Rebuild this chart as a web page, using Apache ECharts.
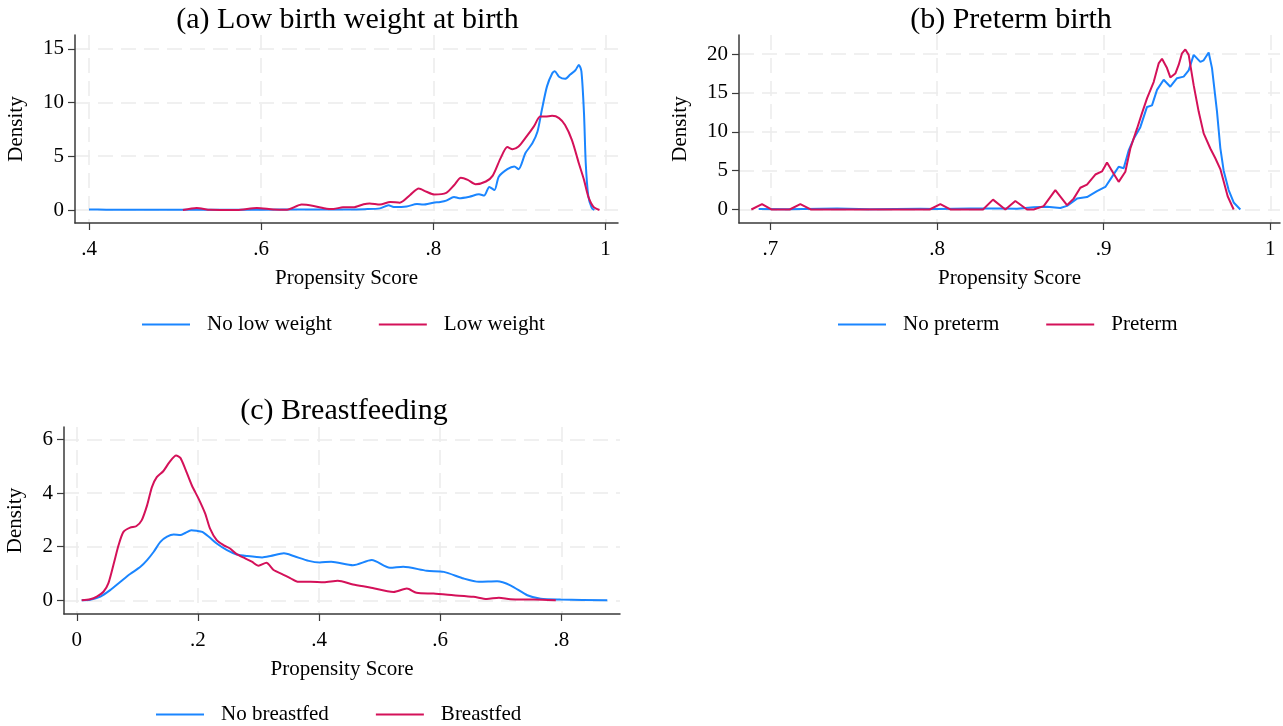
<!DOCTYPE html>
<html>
<head>
<meta charset="utf-8">
<script src="https://cdn.jsdelivr.net/npm/echarts@6/dist/echarts.min.js"></script>
<style>
html,body{margin:0;padding:0;background:#fff;}
#chart{width:1283px;height:726px;}
</style>
</head>
<body>
<div id="chart"></div>
<script>
// ---- Panel titles / labels ----
const titles = ['(a) Low birth weight at birth', '(b) Preterm birth', '(c) Breastfeeding'];
const xName = 'Propensity Score';
const yName = 'Density';

// ---- Tick values ----
const aXTicks = [0.4, 0.6, 0.8, 1];
const aYTicks = [0, 5, 10, 15];
const bXTicks = [0.7, 0.8, 0.9, 1];
const bYTicks = [0, 5, 10, 15, 20];
const cXTicks = [0, 0.2, 0.4, 0.6, 0.8];
const cYTicks = [0, 2, 4, 6];

// ---- Panel (a): Low birth weight ----
const aNoName = 'No low weight';
const aNoX = [0.400, 0.42, 0.45, 0.5, 0.55, 0.6, 0.65, 0.7, 0.72, 0.738, 0.748, 0.754, 0.769, 0.781, 0.788, 0.8, 0.808, 0.815, 0.824, 0.83, 0.842, 0.853, 0.859, 0.865, 0.871, 0.876, 0.886, 0.894, 0.899, 0.907, 0.915, 0.921, 0.926, 0.932, 0.938, 0.941, 0.946, 0.953, 0.959, 0.965, 0.969, 0.972, 0.975, 0.977, 0.980, 0.984, 0.987];
const aNoY = [0.04, 0.03, 0.02, 0.02, 0.02, 0.03, 0.04, 0.05, 0.08, 0.15, 0.45, 0.28, 0.33, 0.55, 0.5, 0.68, 0.75, 0.87, 1.22, 1.1, 1.24, 1.46, 1.34, 2.15, 1.86, 3.1, 3.8, 4.05, 3.8, 5.3, 6.2, 7.3, 9.3, 11.5, 12.7, 12.9, 12.4, 12.2, 12.6, 13.0, 13.5, 12.9, 9.0, 4.4, 1.3, 0.2, 0.0];
const aYesName = 'Low weight';
const aYesX = [0.509, 0.525, 0.541, 0.572, 0.595, 0.614, 0.63, 0.647, 0.661, 0.676, 0.684, 0.695, 0.707, 0.719, 0.726, 0.738, 0.75, 0.761, 0.773, 0.783, 0.792, 0.801, 0.815, 0.824, 0.832, 0.84, 0.849, 0.861, 0.869, 0.878, 0.886, 0.892, 0.899, 0.907, 0.917, 0.924, 0.93, 0.938, 0.946, 0.953, 0.961, 0.969, 0.975, 0.98, 0.986, 0.993];
const aYesY = [0.0, 0.19, 0.02, 0.0, 0.19, 0.05, 0.02, 0.5, 0.37, 0.12, 0.1, 0.25, 0.25, 0.53, 0.6, 0.5, 0.75, 0.68, 1.4, 2.0, 1.7, 1.45, 1.6, 2.3, 3.0, 2.8, 2.4, 2.65, 3.2, 4.8, 5.85, 5.65, 5.9, 6.7, 7.8, 8.7, 8.7, 8.76, 8.55, 7.9, 6.5, 4.35, 2.8, 1.25, 0.3, 0.0];

// ---- Panel (b): Preterm birth ----
const bNoName = 'No preterm';
const bNoX = [0.693, 0.71, 0.74, 0.76, 0.79, 0.80, 0.82, 0.838, 0.848, 0.858, 0.866, 0.874, 0.878, 0.884, 0.89, 0.896, 0.901, 0.905, 0.909, 0.912, 0.915, 0.918, 0.922, 0.926, 0.929, 0.932, 0.936, 0.94, 0.944, 0.948, 0.951, 0.954, 0.958, 0.96, 0.963, 0.965, 0.968, 0.970, 0.972, 0.975, 0.978, 0.982];
const bNoY = [0.05, 0.03, 0.12, 0.03, 0.1, 0.05, 0.12, 0.13, 0.1, 0.3, 0.34, 0.2, 0.47, 1.4, 1.6, 2.35, 2.9, 4.2, 5.5, 5.3, 7.6, 9.1, 10.6, 13.2, 13.4, 15.4, 16.7, 15.8, 16.9, 17.1, 17.9, 19.9, 19.0, 19.2, 20.2, 18.2, 12.6, 7.9, 5.0, 2.5, 0.9, 0.0];
const bYesName = 'Preterm';
const bYesX = [0.6886, 0.695, 0.7006, 0.7116, 0.718, 0.7242, 0.7956, 0.802, 0.808, 0.8276, 0.8336, 0.841, 0.847, 0.854, 0.858, 0.864, 0.871, 0.878, 0.882, 0.886, 0.89, 0.895, 0.899, 0.902, 0.906, 0.909, 0.913, 0.916, 0.92, 0.923, 0.926, 0.93, 0.933, 0.935, 0.938, 0.94, 0.943, 0.945, 0.947, 0.949, 0.951, 0.954, 0.957, 0.96, 0.964, 0.967, 0.970, 0.9744, 0.978];
const bYesY = [0, 0.68, 0, 0, 0.68, 0, 0, 0.68, 0, 0, 1.27, 0, 1.1, 0, 0, 0.43, 2.5, 0.56, 1.4, 2.8, 3.2, 4.5, 4.9, 6.05, 4.6, 3.56, 4.85, 7.85, 10.4, 12.4, 14.3, 16.4, 18.8, 19.4, 18.2, 17.0, 17.5, 18.6, 20.1, 20.6, 19.9, 16.0, 12.6, 9.8, 7.85, 6.6, 5.2, 1.7, 0.0];

// ---- Panel (c): Breastfeeding ----
const cNoName = 'No breastfed';
const cNoX = [0.008, 0.022, 0.039, 0.055, 0.072, 0.088, 0.105, 0.116, 0.127, 0.138, 0.149, 0.16, 0.171, 0.179, 0.189, 0.198, 0.207, 0.218, 0.231, 0.248, 0.264, 0.281, 0.306, 0.32, 0.342, 0.358, 0.383, 0.401, 0.42, 0.456, 0.487, 0.517, 0.539, 0.578, 0.606, 0.639, 0.664, 0.694, 0.716, 0.744, 0.766, 0.799, 0.876];
const cNoY = [0, 0.02, 0.14, 0.38, 0.69, 0.98, 1.25, 1.5, 1.81, 2.18, 2.37, 2.45, 2.43, 2.51, 2.61, 2.59, 2.55, 2.37, 2.12, 1.87, 1.71, 1.65, 1.6, 1.65, 1.75, 1.65, 1.47, 1.41, 1.44, 1.31, 1.5, 1.21, 1.25, 1.1, 1.06, 0.81, 0.69, 0.71, 0.56, 0.19, 0.06, 0.03, 0.0];
const cYesName = 'Breastfed';
const cYesX = [0.008, 0.022, 0.033, 0.044, 0.052, 0.061, 0.069, 0.077, 0.088, 0.098, 0.107, 0.116, 0.124, 0.132, 0.143, 0.153, 0.164, 0.171, 0.179, 0.19, 0.201, 0.212, 0.22, 0.231, 0.242, 0.253, 0.264, 0.278, 0.289, 0.3, 0.313, 0.325, 0.339, 0.353, 0.366, 0.386, 0.408, 0.431, 0.456, 0.484, 0.523, 0.545, 0.561, 0.589, 0.622, 0.655, 0.677, 0.697, 0.716, 0.755, 0.791];
const cYesY = [0, 0.04, 0.14, 0.32, 0.63, 1.37, 2.06, 2.55, 2.71, 2.76, 2.98, 3.54, 4.22, 4.59, 4.82, 5.15, 5.4, 5.31, 4.9, 4.28, 3.79, 3.23, 2.67, 2.24, 2.06, 1.93, 1.72, 1.56, 1.44, 1.29, 1.4, 1.13, 0.98, 0.82, 0.69, 0.69, 0.67, 0.73, 0.59, 0.48, 0.31, 0.44, 0.28, 0.25, 0.19, 0.13, 0.05, 0.1, 0.04, 0.03, 0.0];

// ---- Styling ----
const BLUE = '#1A85FF';
const RED = '#D41159';
const FONT = '"Liberation Serif", "Times New Roman", serif';
const AXIS_COLOR = '#3a3a3a';
const GRID_COLOR = '#ebebeb';

function zip(xs, ys) { return xs.map((x, i) => [x, ys[i]]); }
function fmt(v) {
  const s = String(+(+v).toFixed(3));
  return s.replace(/^0\./, '.').replace(/^-0\./, '-.');
}

function xAxis(gi, min, max, ticks, gap) {
  return {
    type: 'value', gridIndex: gi, min: min, max: max,
    name: xName, nameLocation: 'middle', nameGap: gap,
    nameTextStyle: { fontFamily: FONT, fontSize: 21, color: '#000' },
    axisLine: { show: true, onZero: false, lineStyle: { color: AXIS_COLOR, width: 1.5 } },
    axisTick: { show: true, length: 7, customValues: ticks, lineStyle: { color: AXIS_COLOR, width: 1.2 } },
    axisLabel: { customValues: ticks, formatter: fmt, margin: 16, fontFamily: FONT, fontSize: 21, color: '#000' },
    splitLine: { show: true, lineStyle: { color: GRID_COLOR, width: 1.5, type: [15, 8] } }
  };
}
function yAxis(gi, min, max, ticks, gap) {
  return {
    type: 'value', gridIndex: gi, min: min, max: max,
    name: yName, nameLocation: 'middle', nameGap: gap, nameRotate: 90,
    nameTextStyle: { fontFamily: FONT, fontSize: 21, color: '#000' },
    axisLine: { show: true, onZero: false, lineStyle: { color: AXIS_COLOR, width: 1.5 } },
    axisTick: { show: true, length: 7, customValues: ticks, lineStyle: { color: AXIS_COLOR, width: 1.2 } },
    axisLabel: { customValues: ticks, formatter: fmt, margin: 11, fontFamily: FONT, fontSize: 21, color: '#000' },
    splitLine: { show: true, lineStyle: { color: GRID_COLOR, width: 1.5, type: [15, 8] } }
  };
}
function line(name, xs, ys, idx, color) {
  return {
    type: 'line', name: name, xAxisIndex: idx, yAxisIndex: idx,
    data: zip(xs, ys), showSymbol: false, symbol: 'none', smooth: idx === 1 ? false : 0.25,
    color: color, lineStyle: { color: color, width: 2 }, emphasis: { disabled: true }, animation: false
  };
}
function legend(names, left, top) {
  return {
    data: names, left: left, top: top, orient: 'horizontal', icon: 'rect',
    itemWidth: 48, itemHeight: 2, itemGap: 47, selectedMode: false,
    textStyle: { fontFamily: FONT, fontSize: 21, color: '#000', padding: [0, 0, 0, 12] }
  };
}

const chart = echarts.init(document.getElementById('chart'), null, { renderer: 'canvas' });
chart.setOption({
  backgroundColor: '#fff',
  animation: false,
  title: [
    { text: titles[0], left: 342.5, top: 0, textAlign: 'center', textStyle: { fontFamily: FONT, fontSize: 30, fontWeight: 'normal', color: '#000' } },
    { text: titles[1], left: 1006, top: 0, textAlign: 'center', textStyle: { fontFamily: FONT, fontSize: 30, fontWeight: 'normal', color: '#000' } },
    { text: titles[2], left: 339, top: 391, textAlign: 'center', textStyle: { fontFamily: FONT, fontSize: 30, fontWeight: 'normal', color: '#000' } }
  ],
  grid: [
    { left: 75, top: 35, width: 543, height: 188, outerBoundsMode: 'none' },
    { left: 739, top: 35, width: 541, height: 188, outerBoundsMode: 'none' },
    { left: 64, top: 427, width: 556, height: 187, outerBoundsMode: 'none' }
  ],
  xAxis: [
    xAxis(0, 0.3837, 1.0145, aXTicks, 45),
    xAxis(1, 0.6812, 1.0058, bXTicks, 45),
    xAxis(2, -0.0212, 0.897, cXTicks, 45)
  ],
  yAxis: [
    yAxis(0, -1.21, 16.28, aYTicks, 48),
    yAxis(1, -1.74, 22.46, bYTicks, 48),
    yAxis(2, -0.51, 6.46, cYTicks, 38)
  ],
  legend: [
    legend([aNoName, aYesName], 137, 309),
    legend([bNoName, bYesName], 833, 309),
    legend([cNoName, cYesName], 151, 699)
  ],
  series: [
    line(aNoName, aNoX, aNoY, 0, BLUE),
    line(aYesName, aYesX, aYesY, 0, RED),
    line(bNoName, bNoX, bNoY, 1, BLUE),
    line(bYesName, bYesX, bYesY, 1, RED),
    line(cNoName, cNoX, cNoY, 2, BLUE),
    line(cYesName, cYesX, cYesY, 2, RED)
  ]
});
</script>
</body>
</html>
